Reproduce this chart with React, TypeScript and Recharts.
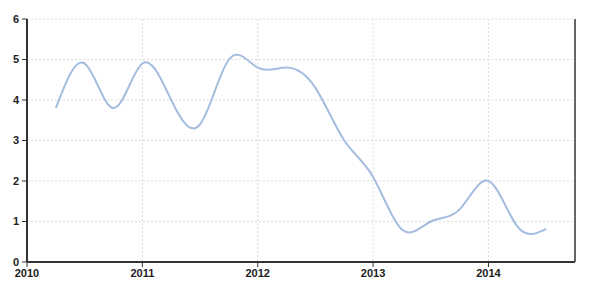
import { LineChart, Line, XAxis, YAxis, CartesianGrid } from 'recharts'

// quarterly readings, 2010 Q2 .. 2014 Q3
const quarters = [
  2010.25, 2010.5, 2010.75, 2011.0, 2011.25, 2011.5, 2011.75, 2012.0, 2012.25,
  2012.5, 2012.75, 2013.0, 2013.25, 2013.5, 2013.75, 2014.0, 2014.25, 2014.5,
]
const values = [
  3.8, 4.9, 3.8, 4.9, 4.0, 3.4, 5.0, 4.8, 4.8,
  4.3, 3.0, 2.1, 0.8, 1.0, 1.3, 2.0, 0.88, 0.82,
]
const yearTicks = [2010, 2011, 2012, 2013, 2014]
const valueTicks = [0, 1, 2, 3, 4, 5, 6]

const data = quarters.map((x, i) => ({ x, v: values[i] }))

const tickStyle = { fill: '#222', fontSize: 11, fontWeight: 'bold', fontFamily: 'Arial, "Liberation Sans", sans-serif' }

export default function App() {
  return (
    <div style={{ position: 'absolute', left: 0, top: 0, background: '#fff' }}>
      <LineChart width={609} height={298} data={data} margin={{ top: 19, right: 0, bottom: 16, left: 0 }}>
        <CartesianGrid yAxisId="left" stroke="#dcdcdc" strokeDasharray="2 2" />
        <XAxis
          dataKey="x"
          type="number"
          domain={[2010, 2014.75]}
          ticks={yearTicks}
          allowDataOverflow
          height={20}
          tickSize={5}
          tickMargin={2}
          tick={tickStyle}
          stroke="#333"
          axisLine={{ stroke: '#333', strokeWidth: 2 }}
          tickLine={{ stroke: '#333' }}
        />
        <YAxis
          yAxisId="left"
          domain={[0, 6]}
          ticks={valueTicks}
          width={27}
          tickSize={5}
          tickMargin={3}
          tick={tickStyle}
          axisLine={{ stroke: '#333', strokeWidth: 2 }}
          tickLine={{ stroke: '#333' }}
        />
        <YAxis
          yAxisId="right"
          orientation="right"
          domain={[0, 6]}
          ticks={valueTicks}
          width={34}
          tickSize={5}
          tickMargin={2}
          tick={tickStyle}
          axisLine={{ stroke: '#666', strokeWidth: 2 }}
          tickLine={{ stroke: '#333' }}
        />
        <Line
          yAxisId="left"
          type="natural"
          dataKey="v"
          stroke="#a4bcdf"
          strokeWidth={2}
          dot={false}
          isAnimationActive={false}
        />
      </LineChart>
    </div>
  )
}
